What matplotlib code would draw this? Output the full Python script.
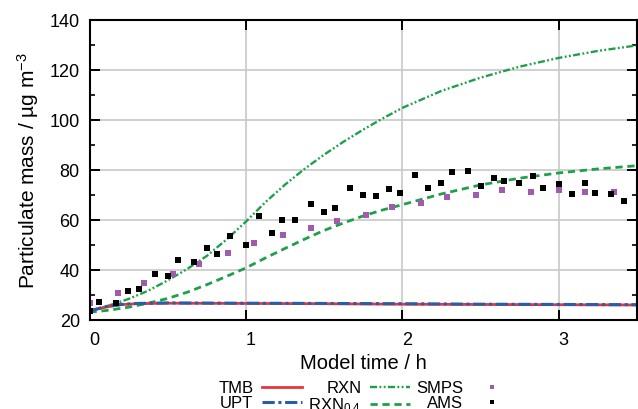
import matplotlib
matplotlib.use('Agg')
import matplotlib.pyplot as plt
import matplotlib.transforms as mtransforms
from matplotlib.lines import Line2D
from matplotlib.ticker import MultipleLocator

plt.rcParams['font.family'] = ['Liberation Sans', 'DejaVu Sans']
plt.rcParams['mathtext.default'] = 'regular'

# ---- data ----
t_base = [0, 0.1, 0.2, 0.3, 0.5, 1.0, 1.5, 2.0, 2.5, 3.0, 3.5]
tmb = [23.5, 25.0, 26.0, 26.4, 26.6, 26.5, 26.4, 26.2, 26.1, 26.0, 25.9]
upt = [23.5, 25.2, 26.1, 26.5, 26.7, 26.6, 26.5, 26.4, 26.2, 26.1, 26.0]

t_rxn = [0, 0.125, 0.25, 0.375, 0.5, 0.625, 0.75, 0.875, 1.0, 1.125, 1.25, 1.375,
         1.5, 1.625, 1.75, 1.875, 2.0, 2.25, 2.5, 2.75, 3.0, 3.25, 3.5]
rxn = [23, 25.7, 28.3, 31.6, 35.7, 40.3, 45.5, 52.0, 59.2, 67.0, 74.0, 80.3,
       86.0, 91.2, 96.0, 100.5, 104.7, 111.5, 116.8, 121.2, 124.7, 127.5, 129.7]
rxn04 = [23, 23.8, 25.0, 26.6, 28.5, 31.0, 34.0, 37.3, 40.7, 44.7, 48.5, 52.2,
         55.7, 58.7, 61.5, 63.9, 66.0, 70.3, 73.9, 76.6, 78.7, 80.3, 81.6]

t_smps = [0.0, 0.184, 0.35, 0.536, 0.70, 0.885, 1.049, 1.236, 1.417, 1.584, 1.769,
          1.935, 2.118, 2.284, 2.47, 2.636, 2.821, 3.002, 3.168, 3.353]
smps = [26.8, 30.6, 34.7, 38.3, 42.3, 46.8, 50.8, 54.0, 56.7, 59.5, 61.9,
        65.0, 66.5, 69.1, 69.8, 71.9, 71.0, 71.8, 71.1, 71.2]

t_ams = [0.0, 0.06, 0.167, 0.248, 0.316, 0.417, 0.50, 0.567, 0.668, 0.749, 0.817, 0.90,
         1.0, 1.083, 1.166, 1.232, 1.317, 1.417, 1.498, 1.567, 1.669, 1.752, 1.835,
         1.918, 1.984, 2.084, 2.167, 2.25, 2.318, 2.418, 2.502, 2.585, 2.65, 2.75,
         2.834, 2.902, 3.002, 3.085, 3.168, 3.236, 3.337, 3.42]
ams = [23.4, 27.0, 26.6, 31.6, 32.3, 38.3, 37.6, 43.9, 43.0, 48.7, 46.3, 53.5,
       49.9, 61.5, 54.6, 60.0, 59.9, 66.2, 63.0, 64.8, 72.8, 69.8, 69.4,
       72.2, 70.6, 78.0, 72.8, 74.8, 79.2, 79.5, 73.6, 76.8, 75.4, 74.6,
       77.4, 72.7, 74.3, 70.2, 74.7, 70.6, 70.3, 67.5]

x_ticks = [0, 1, 2, 3]
y_ticks = [20, 40, 60, 80, 100, 120, 140]

# ---- style ----
red = '#e8343a'
blue = '#2a5caa'
green = '#1ea04a'
purple = '#a05aae'

ls_rxn = (0, (3, 1, 0.8, 1, 0.8, 1))
ls_rxn04 = (0, (2.6, 1.7))
ls_upt = (0, (4, 1.2, 1, 1.2))

fig = plt.figure(figsize=(6.38, 4.10), dpi=100)
ax = fig.add_axes([0.1403, 0.2178, 0.8577, 0.7317])

ax.plot(t_rxn, rxn04, color=green, lw=2.0, ls=ls_rxn04, zorder=3)
ax.plot(t_rxn, rxn, color=green, lw=1.7, ls=ls_rxn, zorder=3)
ax.plot(t_base, tmb, color=red, lw=2.0, zorder=4)
ax.plot(t_base, upt, color=blue, lw=2.2, ls=ls_upt, zorder=5)
ax.plot(t_smps, smps, ls='none', marker='s', ms=4.2, mew=0, color=purple, zorder=6)
ax.plot(t_ams, ams, ls='none', marker='s', ms=4.2, mew=0, color='black', zorder=7)

ax.set_xlim(0, 3.5)
ax.set_ylim(20, 140)
ax.set_xticks(x_ticks)
ax.set_yticks(y_ticks)
ax.yaxis.set_minor_locator(MultipleLocator(10))

ax.grid(True, which='major', color='#c8c8c8', lw=1.2, zorder=0)
ax.set_axisbelow(True)

for s in ax.spines.values():
    s.set_linewidth(1.5)
    s.set_zorder(8)

ax.tick_params(axis='both', which='major', direction='in', length=7.5, width=1.4,
               top=True, right=True, labelsize=13)
ax.tick_params(axis='y', which='minor', direction='in', length=3.8, width=1.2,
               left=True, right=True)
ax.tick_params(axis='y', which='major', pad=7)
ax.tick_params(axis='x', which='major', pad=8)

offset = mtransforms.ScaledTranslation(0.045, 0, fig.dpi_scale_trans)
for lab in ax.get_xticklabels():
    lab.set_transform(lab.get_transform() + offset)

ax.set_xlabel('Model time / h', fontsize=14.5, labelpad=4)
ax.set_ylabel('Particulate mass / µg m$^{-3}$', fontsize=15, labelpad=6)

handles = [
    Line2D([], [], color=red, lw=2.0, label='TMB'),
    Line2D([], [], color=blue, lw=2.2, ls=ls_upt, label='UPT'),
    Line2D([], [], color=green, lw=1.7, ls=ls_rxn, label='RXN'),
    Line2D([], [], color=green, lw=2.0, ls=ls_rxn04, label='RXN$_{0.4}$'),
    Line2D([], [], color=purple, marker='s', ls='none', ms=3.2, mew=0, label='SMPS'),
    Line2D([], [], color='black', marker='s', ls='none', ms=3.2, mew=0, label='AMS'),
]
fig.legend(handles=handles, ncol=3, markerfirst=False, loc='upper center',
           bbox_to_anchor=(0.572, 0.09), frameon=False, fontsize=12,
           handlelength=2.4, handletextpad=0.5, columnspacing=0.4,
           labelspacing=0.0, borderpad=0)

fig.savefig('out.png', dpi=100)
